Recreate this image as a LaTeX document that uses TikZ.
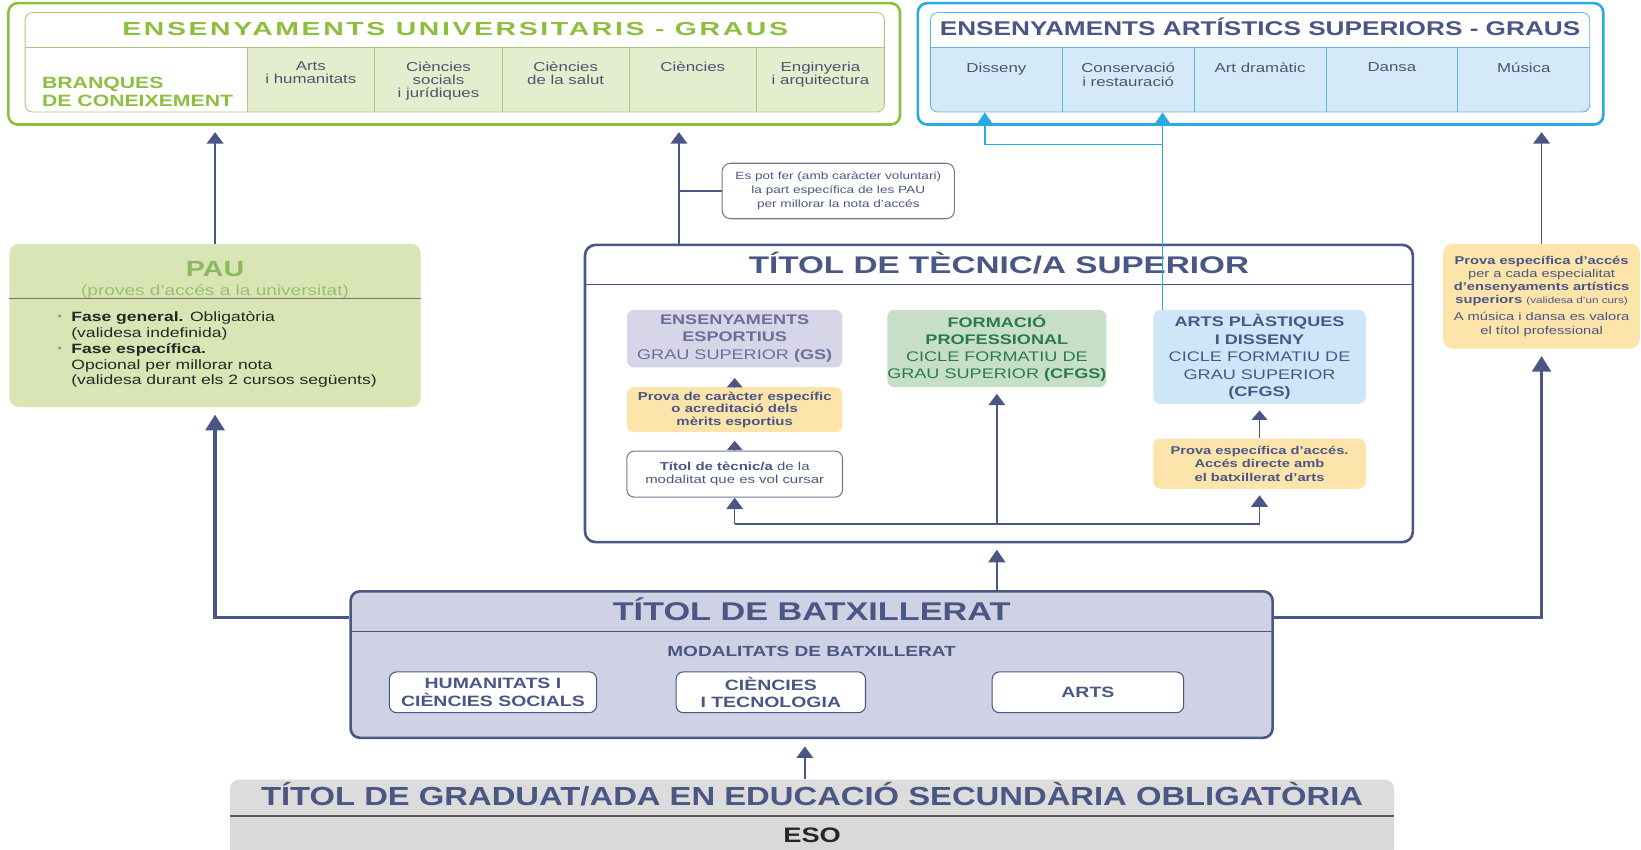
\documentclass[tikz,border=0pt]{standalone}
\usepackage{fontspec}
\usepackage{graphicx}
\setmainfont{Liberation Sans}[FakeStretch=1.3]
\newfontfamily\spacedfont{Liberation Sans}[FakeStretch=1.3,LetterSpace=12]
\usetikzlibrary{arrows.meta}

\definecolor{ugreen}{RGB}{141,190,62}
\definecolor{ucell}{RGB}{228,237,205}
\definecolor{ugrid}{RGB}{175,198,130}
\definecolor{acyan}{RGB}{41,170,225}
\definecolor{acell}{RGB}{213,234,248}
\definecolor{agrid}{RGB}{95,180,225}
\definecolor{slate}{RGB}{74,87,133}
\definecolor{coltext}{RGB}{78,84,112}
\definecolor{paufill}{RGB}{218,229,182}
\definecolor{pautext}{RGB}{139,186,92}
\definecolor{espfill}{RGB}{214,214,232}
\definecolor{esptext}{RGB}{108,110,152}
\definecolor{fpfill}{RGB}{199,222,201}
\definecolor{fptext}{RGB}{42,124,70}
\definecolor{apfill}{RGB}{205,231,248}
\definecolor{yfill}{RGB}{252,228,170}
\definecolor{batxfill}{RGB}{207,209,228}
\definecolor{esofill}{RGB}{220,220,220}
\definecolor{notegrey}{RGB}{120,120,130}

\newcommand{\fitto}[2]{\resizebox{#1}{\height}{#2}}

\tikzset{
  outerbox/.style={rectangle, inner sep=0pt, rounded corners=9pt, line width=2.5pt},
  gridbox/.style={rectangle, inner sep=0pt, rounded corners=7pt, line width=0.8pt},
  card/.style={rectangle, inner sep=0pt, rounded corners=7pt, align=center},
  txt/.style={inner sep=0pt, align=center},
  fs/.style 2 args={font=\fontsize{#1}{#2}\selectfont},
  fsb/.style 2 args={font=\fontsize{#1}{#2}\selectfont\bfseries},
  conn/.style={draw=slate, line width=1.4pt},
  arr/.style={conn, -{Triangle[width=16pt,length=11pt]}},
  shortarr/.style={conn, -{Triangle[width=15pt,length=9pt]}},
  fatarr/.style={draw=slate, line width=3.2pt, -{Triangle[width=18pt,length=15pt]}},
  midarr/.style={draw=slate, line width=2.2pt, -{Triangle[width=16pt,length=12pt]}},
  carr/.style={draw=acyan, line width=1.3pt, -{Triangle[width=15pt,length=11pt]}},
}

\begin{document}
\begin{tikzpicture}[x=1pt, y=-1pt]
\useasboundingbox (0,0) rectangle (1568,812);
%%%%% START %%%%%

% university degrees
\begin{scope}
  \clip[rounded corners=7pt] (24,12) rectangle (845,107);
  \fill[ucell] (236,45) rectangle (845,107);
\end{scope}
\node[outerbox, draw=ugreen, minimum width=852pt, minimum height=116pt] (uni) at (434,61) {};
\node[gridbox, draw=ugrid, minimum width=821pt, minimum height=95pt] (unitab) at (434.5,59.5) {};
\draw[ugrid, line width=0.8pt] (24,45) -- (845,45);
\foreach \x in {236,358,480,601,723}
  \draw[ugrid, line width=0.8pt] (\x,45) -- (\x,107);
\node[txt, font=\fontsize{18}{20}\selectfont\spacedfont\bfseries, text=ugreen, anchor=base] (unititle) at (435,33.6) {\fitto{636pt}{ENSENYAMENTS UNIVERSITARIS - GRAUS}};
\node[txt, fsb={15.6}{18}, text=ugreen, anchor=north west, align=left] (branques) at (40,73) {BRANQUES\\DE CONEIXEMENT};
\node[txt, fs={12.4}{12.3}, text=coltext, anchor=north] (colarts) at (297,59) {Arts\\i humanitats};
\node[txt, fs={12.4}{12.3}, text=coltext, anchor=north] (colsoc) at (419,59) {Ciències\\socials\\i jurídiques};
\node[txt, fs={12.4}{12.3}, text=coltext, anchor=north] (colsal) at (540.5,59) {Ciències\\de la salut};
\node[txt, fs={12.4}{12.3}, text=coltext, anchor=north] (colcie) at (662,59) {Ciències};
\node[txt, fs={12.4}{12.3}, text=coltext, anchor=north] (coleng) at (784,59) {Enginyeria\\i arquitectura};

% artistic degrees
\begin{scope}
  \clip[rounded corners=7pt] (889,12) rectangle (1519,107);
  \fill[acell] (889,45) rectangle (1519,107);
\end{scope}
\node[outerbox, draw=acyan, minimum width=655pt, minimum height=116pt] (art) at (1204.5,61) {};
\node[gridbox, draw=agrid, minimum width=630pt, minimum height=95pt] (arttab) at (1204,59.5) {};
\draw[agrid, line width=0.8pt] (889,45) -- (1519,45);
\foreach \x in {1015,1141,1267,1393}
  \draw[agrid, line width=0.8pt] (\x,45) -- (\x,107);
\node[txt, fsb={19}{21}, text=slate, anchor=base] (arttitle) at (1204,33.8) {\fitto{612pt}{ENSENYAMENTS ARTÍSTICS SUPERIORS - GRAUS}};
\node[txt, fs={12.4}{13}, text=coltext, anchor=north] (coldis) at (952,60) {Disseny};
\node[txt, fs={12.4}{13}, text=coltext, anchor=north] (colcon) at (1078,60) {Conservació\\i restauració};
\node[txt, fs={12.4}{13}, text=coltext, anchor=north] (coldra) at (1204,60) {Art dramàtic};
\node[txt, fs={12.4}{13}, text=coltext, anchor=north] (colsa) at (1330,60) {Dansa};
\node[txt, fs={12.4}{13}, text=coltext, anchor=north] (colmus) at (1456,60) {Música};

% PAU
\node[card, rounded corners=9pt, fill=paufill, minimum width=393pt, minimum height=156pt] (pau) at (205.5,311) {};
\node[txt, fsb={21}{23}, text=pautext] (pautitle) at (205.5,257) {PAU};
\node[txt, fs={14}{16}, text=pautext!90] (pausub) at (205.5,278.5) {(proves d'accés a la universitat)};
\draw[black!55, line width=0.9pt] (9,285) -- (402,285);
\fill[pautext!70!gray] (57,302) circle (1.8) (57,332.4) circle (1.8);
\node[txt, fs={12.9}{15.2}, text=black!85, anchor=north west, align=left] (paulist) at (68,297.3) {\textbf{Fase general.} Obligatòria\\(validesa indefinida)\\\textbf{Fase específica.}\\Opcional per millorar nota\\(validesa durant els 2 cursos següents)};

% note
\node[card, rounded corners=8pt, draw=notegrey, line width=1pt, fill=white, fs={10}{13.5}, text=slate, minimum width=222pt, minimum height=53pt] (note) at (801,182.5) {Es pot fer (amb caràcter voluntari)\\la part específica de les PAU\\per millorar la nota d'accés};

% higher technician
\node[card, rounded corners=10pt, draw=slate, line width=2.5pt, fill=white, minimum width=791pt, minimum height=284pt] (tec) at (954.5,376) {};
\draw[slate, line width=1pt] (559,272) -- (1350,272);
\node[txt, fsb={23}{25}, text=slate, anchor=base] (tectitle) at (954.5,261.5) {\fitto{478pt}{TÍTOL DE TÈCNIC/A SUPERIOR}};

\node[card, fill=espfill, fs={13.3}{16.5}, text=esptext, minimum width=206pt, minimum height=55pt] (esp) at (702,323.5) {\textbf{ENSENYAMENTS}\\\textbf{ESPORTIUS}\\GRAU SUPERIOR \textbf{(GS)}};
\node[card, fill=yfill, fsb={11}{12}, text=slate, minimum width=206pt, minimum height=43pt] (prv1) at (702,391.5) {Prova de caràcter específic\\o acreditació dels\\mèrits esportius};
\node[card, draw=slate!80, line width=1pt, fill=white, fs={11}{12.9}, text=slate, minimum width=206pt, minimum height=44pt] (tit) at (702,453) {\textbf{Títol de tècnic/a} de la\\modalitat que es vol cursar};
\node[card, fill=fpfill, fs={13.3}{16.3}, text=fptext, minimum width=205pt, minimum height=74pt] (fp) at (952.5,333) {\textbf{FORMACIÓ}\\\textbf{PROFESSIONAL}\\CICLE FORMATIU DE\\GRAU SUPERIOR \textbf{(CFGS)}};
\node[card, fill=apfill, fs={13.3}{16.7}, text=slate, minimum width=203pt, minimum height=90pt] (apd) at (1203.5,341) {\textbf{ARTS PLÀSTIQUES}\\\textbf{I DISSENY}\\CICLE FORMATIU DE\\GRAU SUPERIOR\\\textbf{(CFGS)}};
\node[card, fill=yfill, fsb={10.8}{12.8}, text=slate, minimum width=203pt, minimum height=48pt] (prv2) at (1203.5,443) {Prova específica d'accés.\\Accés directe amb\\el batxillerat d'arts};

% artistic entrance test
\node[card, rounded corners=9pt, fill=yfill, fs={10.8}{12.7}, text=slate, minimum width=188pt, minimum height=100pt] (prv3) at (1473,283) {\textbf{Prova específica d'accés}\\per a cada especialitat\\\textbf{d'ensenyaments artístics}\\\textbf{superiors} {\fontsize{8.6}{10}\selectfont(validesa d'un curs)}\\[3.5pt]A música i dansa es valora\\el títol professional};

% batxillerat
\node[card, rounded corners=9pt, draw=slate, line width=2.5pt, fill=batxfill, minimum width=881pt, minimum height=140pt] (batx) at (775.5,635) {};
\draw[slate, line width=1pt] (335,603) -- (1216,603);
\node[txt, fsb={24.5}{26}, text=slate, anchor=base] (batxtitle) at (775.5,592.5) {\fitto{380pt}{TÍTOL DE BATXILLERAT}};
\node[txt, fsb={14}{16}, text=slate] (modal) at (775.5,622) {MODALITATS DE BATXILLERAT};
\node[card, draw=slate, line width=1pt, fill=white, fsb={14.3}{16.5}, text=slate, minimum width=198pt, minimum height=39pt] (hum) at (471,661.5) {HUMANITATS I\\CIÈNCIES SOCIALS};
\node[card, draw=slate, line width=1pt, fill=white, fsb={14.3}{16.5}, text=slate, minimum width=181pt, minimum height=39pt] (cie) at (736.5,661.5) {CIÈNCIES\\I TECNOLOGIA};
\node[card, draw=slate, line width=1pt, fill=white, fsb={14.3}{16.5}, text=slate, minimum width=183pt, minimum height=39pt] (arts) at (1039.5,661.5) {ARTS};

% ESO
\node[card, rounded corners=8pt, fill=esofill, minimum width=1112pt, minimum height=73pt] (eso) at (776,781.5) {};
\fill[black!15] (220,780) rectangle (1332,818);
\draw[black!65, line width=1.6pt] (220,780) -- (1332,780);
\node[txt, fsb={25}{27}, text=slate, anchor=base] (esotitle) at (776,769.5) {\fitto{1053pt}{TÍTOL DE GRADUAT/ADA EN EDUCACIÓ SECUNDÀRIA OBLIGATÒRIA}};
\node[txt, fsb={20}{22}, text=black!85] (esoname) at (776,798.5) {ESO};

% connectors
\coordinate (tecout) at ([xshift=91pt]tec.north west);
\coordinate (apdin) at ([xshift=9pt]apd.north west);
\coordinate (dis) at (941,138);
\coordinate (bl) at ([yshift=-26pt]batx.north west);
\coordinate (br) at ([yshift=-26pt]batx.north east);
\coordinate (esoup) at ([xshift=-7pt]eso.north);
\path (tit.south) ++(0,25) coordinate (busl);

\draw[arr, shorten >=6pt] (pau.north) -- (pau.north |- uni.south);
\draw[arr, shorten >=6pt] (tecout) -- (tecout |- uni.south);
\draw[conn] (tecout |- note.west) -- (note.west);
\draw[arr, shorten >=6pt] (prv3.north) -- (prv3.north |- art.south);

\draw[carr] (apdin) -- (apdin |- arttab.south);
\draw[carr] (apdin |- dis) -- (dis) -- (dis |- arttab.south);

\draw[fatarr, shorten >=7pt] (bl) -| (pau.south);
\draw[fatarr, shorten >=7pt] (br) -| (prv3.south);
\draw[midarr, shorten >=6pt] (batx.north -| fp.south) -- (tec.south -| fp.south);
\draw[arr, shorten >=7pt] (esoup) -- (esoup |- batx.south);

\draw[conn] (busl) -- (busl -| prv2.south);
\draw[arr] (busl) -- (tit.south);
\draw[arr, shorten >=6pt] (busl -| fp.south) -- (fp.south);
\draw[arr, shorten >=6pt] (busl -| prv2.south) -- (prv2.south);
\draw[shortarr, shorten >=10pt] (prv1.north) -- (esp.south);
\draw[shortarr, shorten >=8pt] (tit.north) -- (prv1.south);
\draw[shortarr, shorten >=6pt] (prv2.north) -- (apd.south);

%%%%% END %%%%%
\end{tikzpicture}
\end{document}
